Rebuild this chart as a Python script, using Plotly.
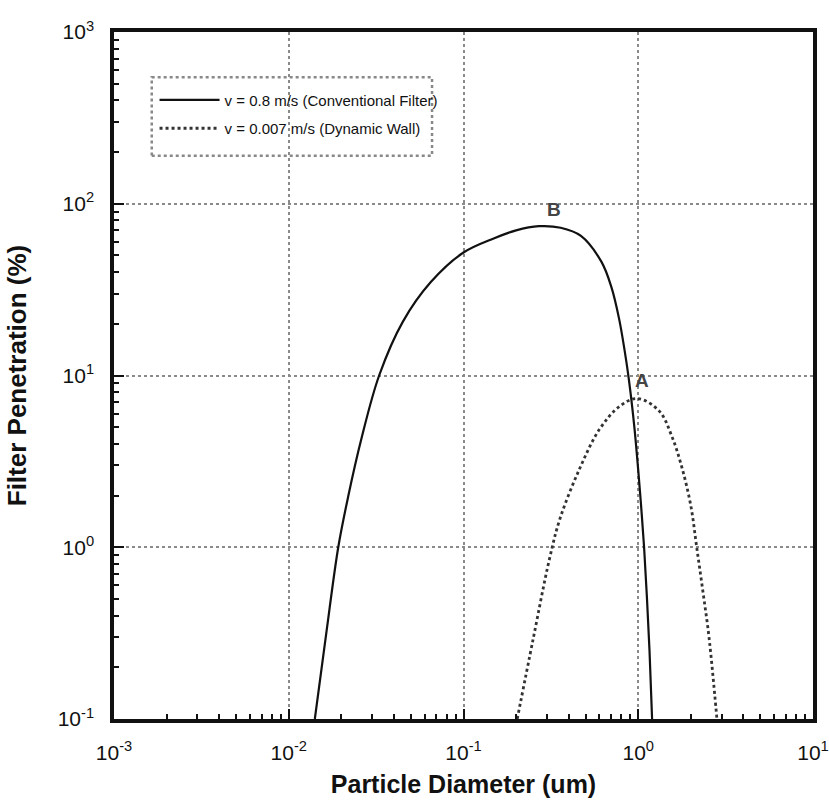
import math
import plotly.graph_objects as go

# Conventional filter, v = 0.8 m/s
conv_d = [0.0141, 0.0164, 0.0192, 0.0219, 0.026, 0.0329, 0.045, 0.065, 0.1,
          0.15, 0.2, 0.27, 0.36, 0.47, 0.615, 0.7, 0.776, 0.85, 0.9, 0.95,
          1.0, 1.04, 1.08, 1.12, 1.16, 1.2]
conv_p = [0.1, 0.316, 1.0, 1.98, 4.25, 10, 20.6, 35, 52,
          63, 70, 74, 72.5, 65, 46, 33, 21.5, 12.5, 8.2, 5.0,
          2.8, 1.7, 1.0, 0.52, 0.25, 0.1]

# Dynamic wall, v = 0.007 m/s
dyn_d = [0.203, 0.25, 0.31, 0.356, 0.46, 0.60, 0.78, 0.99, 1.32, 1.56, 1.78, 2.0,
         2.16, 2.34, 2.54, 2.82]
dyn_p = [0.1, 0.29, 0.85, 1.46, 2.84, 4.86, 6.6, 7.35, 6.2, 4.4, 2.9, 1.74,
         1.0, 0.56, 0.30, 0.1]

x_tickvals = [1e-3, 1e-2, 1e-1, 1e0, 1e1]
x_ticktext = ["10<sup>-3</sup>", "10<sup>-2</sup>", "10<sup>-1</sup>", "10<sup>0</sup>", "10<sup>1</sup>"]
y_tickvals = [1e-1, 1e0, 1e1, 1e2, 1e3]
y_ticktext = ["10<sup>-1</sup>", "10<sup>0</sup>", "10<sup>1</sup>", "10<sup>2</sup>", "10<sup>3</sup>"]
x_minor = [m * 10.0 ** e for e in range(-3, 1) for m in range(2, 10)]
y_minor = [m * 10.0 ** e for e in range(-1, 3) for m in range(2, 10)]

labels = ["v = 0.8 m/s (Conventional Filter)", "v = 0.007 m/s (Dynamic Wall)"]
point_labels = ["B", "A"]
point_x = [0.33, 1.05]
point_y = [93, 9.4]

FONT = "Liberation Sans, Arial, sans-serif"

fig = go.Figure()
fig.add_trace(go.Scatter(x=conv_d, y=conv_p, mode="lines", name=labels[0], legendgroup="g1",
                         line=dict(color="#111111", width=2.2, shape="spline", smoothing=1.0)))
fig.add_trace(go.Scatter(x=dyn_d, y=dyn_p, mode="lines", name=labels[1], legendgroup="g2",
                         line=dict(color="#333333", width=2.8, dash="dot", shape="spline", smoothing=1.0)))

for t, xx, yy in zip(point_labels, point_x, point_y):
    fig.add_annotation(x=math.log10(xx), y=math.log10(yy),
                       text="<b>%s</b>" % t, showarrow=False,
                       font=dict(family=FONT, size=19, color="#444444"))

# legend frame (dotted)
fig.add_shape(type="rect", xref="paper", yref="paper", x0=0.054, x1=0.455, y0=0.820, y1=0.934,
              line=dict(color="#888888", width=2.5, dash="dot"), fillcolor="rgba(0,0,0,0)")

axis_common = dict(
    type="log",
    showline=True, linecolor="#111111", linewidth=3.5, mirror=True,
    ticks="inside", ticklen=10, tickwidth=2, tickcolor="#111111",
    showgrid=True, gridcolor="#8a8a8a", gridwidth=1.5, griddash="dot",
    zeroline=False, automargin=False,
    tickfont=dict(family=FONT, size=21, color="#111111"),
)

fig.update_xaxes(range=[-3, 1], tickvals=x_tickvals, ticktext=x_ticktext, ticklabelstandoff=12,
                 minor=dict(tickvals=x_minor, ticks="inside", ticklen=5, tickwidth=2,
                            tickcolor="#111111", showgrid=False),
                 title=dict(text="<b>Particle Diameter (um)</b>",
                            font=dict(family=FONT, size=25, color="#111111"), standoff=14),
                 **axis_common)
fig.update_yaxes(range=[-1, 3], tickvals=y_tickvals, ticktext=y_ticktext, ticklabelstandoff=12,
                 minor=dict(tickvals=y_minor, ticks="inside", ticklen=5, tickwidth=2,
                            tickcolor="#111111", showgrid=False),
                 title=dict(text="<b>Filter Penetration (%)</b>",
                            font=dict(family=FONT, size=26, color="#111111"), standoff=25),
                 **axis_common)

fig.update_layout(
    width=829, height=806,
    margin=dict(l=114, r=16, t=32, b=87),
    paper_bgcolor="white", plot_bgcolor="white",
    showlegend=True,
    legend=dict(x=0.058, y=0.925, xanchor="left", yanchor="top",
                bgcolor="rgba(255,255,255,0)", borderwidth=0,
                font=dict(family=FONT, size=15, color="#111111"),
                tracegroupgap=6, itemwidth=60),
)

fig.write_html("out.html", config={"displayModeBar": False},
               post_script="document.body.style.margin='0';document.body.style.overflow='hidden';")
